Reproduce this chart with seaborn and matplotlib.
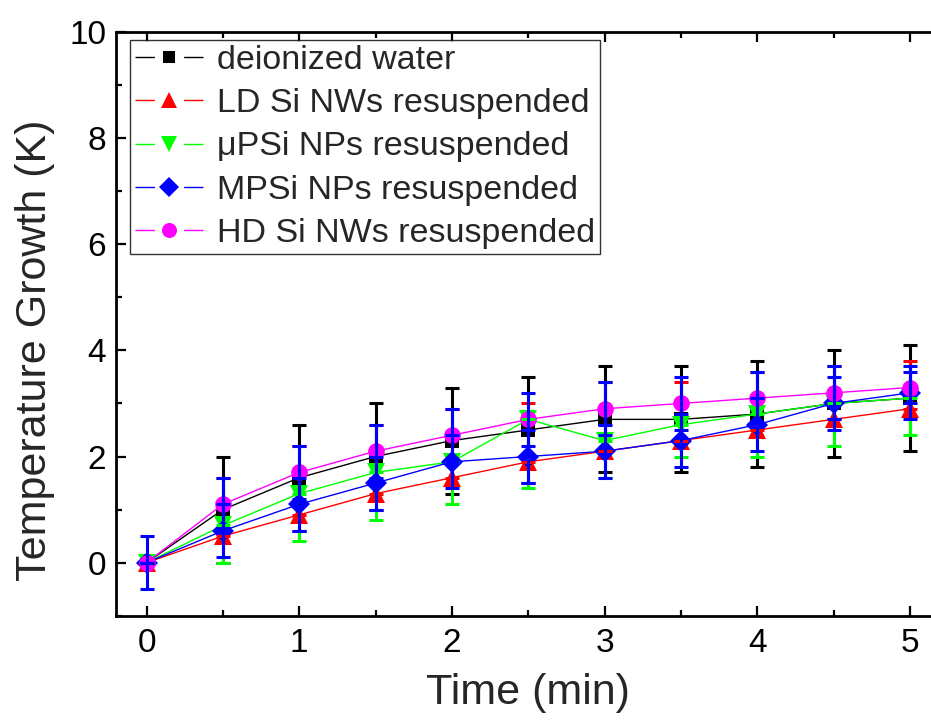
import matplotlib
matplotlib.use("Agg")
import matplotlib.pyplot as plt
import pandas as pd
import seaborn as sns
from matplotlib.lines import Line2D
from matplotlib.ticker import MultipleLocator

# time axis (min)
time_min = [0, 0.5, 1, 1.5, 2, 2.5, 3, 3.5, 4, 4.5, 5]

# temperature growth (K) and error bars
water = [0, 1.0, 1.6, 2.0, 2.3, 2.5, 2.7, 2.7, 2.8, 3.0, 3.1]
water_err = [0, 1.0, 1.0, 1.0, 1.0, 1.0, 1.0, 1.0, 1.0, 1.0, 1.0]
ld_nws = [0, 0.5, 0.9, 1.3, 1.6, 1.9, 2.1, 2.3, 2.5, 2.7, 2.9]
ld_nws_err = [0, 1.1, 1.3, 1.3, 1.3, 1.1, 1.3, 1.1, 1.1, 1.0, 0.9]     # upper only
upsi_nps = [0, 0.7, 1.3, 1.7, 1.9, 2.7, 2.3, 2.6, 2.8, 3.0, 3.1]
upsi_nps_err = [0, 0.7, 0.9, 0.9, 0.8, 1.3, 0.7, 0.6, 0.8, 0.8, 0.7]   # lower only
mpsi_nps = [0, 0.6, 1.1, 1.5, 1.9, 2.0, 2.1, 2.3, 2.6, 3.0, 3.2]
mpsi_nps_err = [0.5, 0.5, 0.5, 0.5, 0.5, 0.5, 0.5, 0.5, 0.5, 0.5, 0.5]
hd_nws = [0, 1.1, 1.7, 2.1, 2.4, 2.7, 2.9, 3.0, 3.1, 3.2, 3.3]
hd_nws_err = [0, 0.5, 0.5, 0.5, 0.5, 0.5, 0.5, 0.5, 0.5, 0.5, 0.3]

labels = [
    "deionized water",
    "LD Si NWs resuspended",
    "\u03bcPSi NPs resuspended",
    "MPSi NPs resuspended",
    "HD Si NWs resuspended",
]
colors = ["#000000", "#FF0000", "#00FF00", "#0000FF", "#FF00FF"]
# HD error bars are drawn in blue in the original
err_colors = ["#000000", "#FF0000", "#00FF00", "#0000FF", "#0000FF"]
err_sides = ["both", "upper", "lower", "both", "both"]
markers = ["s", "^", "v", "D", "o"]
marker_sizes = [10, 13, 13, 11, 12]

sns.set_theme(style="ticks")
plt.rcParams["font.family"] = ["Liberation Sans", "DejaVu Sans"]

fig = plt.figure(figsize=(9.31, 7.22), dpi=100)
ax = fig.add_axes([116 / 931, 1 - 615.7 / 722, 824.4 / 931, (615.7 - 32) / 722])

series = [water, ld_nws, upsi_nps, mpsi_nps, hd_nws]
errors = [water_err, ld_nws_err, upsi_nps_err, mpsi_nps_err, hd_nws_err]

for vals, lab, col, mk, ms in zip(series, labels, colors, markers, marker_sizes):
    df = pd.DataFrame({"time": time_min, "growth": vals})
    sns.lineplot(
        data=df, x="time", y="growth", color=col, marker=mk, markersize=ms,
        markeredgewidth=0, linewidth=1, ax=ax, zorder=2, legend=False,
    )

for vals, err, ecol, side in zip(series, errors, err_colors, err_sides):
    zeros = [0] * len(err)
    if side == "upper":
        yerr = [zeros, err]
    elif side == "lower":
        yerr = [err, zeros]
    else:
        yerr = err
    ax.errorbar(
        time_min, vals, yerr=yerr, fmt="none", ecolor=ecol, elinewidth=2.2,
        capsize=5, capthick=2.2, zorder=3,
    )

ax.set_xlim(-0.2, 5.2)
ax.set_ylim(-1, 10)
ax.xaxis.set_major_locator(MultipleLocator(1))
ax.xaxis.set_minor_locator(MultipleLocator(0.5))
ax.yaxis.set_major_locator(MultipleLocator(2))
ax.yaxis.set_minor_locator(MultipleLocator(1))
ax.tick_params(which="both", direction="in", top=True, right=False, width=1.6,
               colors="black", labelsize=24)
ax.tick_params(which="major", length=7)
ax.tick_params(which="minor", length=4)
ax.tick_params(axis="x", pad=9)
ax.tick_params(axis="y", pad=7)
for side in ["left", "bottom", "top"]:
    ax.spines[side].set_linewidth(2)
    ax.spines[side].set_color("black")
ax.spines["right"].set_visible(False)

ax.set_xlabel("Time (min)", fontsize=31, labelpad=10)
ax.set_ylabel("Temperature Growth (K)", fontsize=31)
ax.yaxis.set_label_coords(-0.074, 0.455)

# Origin-style legend keys: line, gap, symbol, gap, line
handles = [
    Line2D([], [], color=col, linewidth=1, linestyle=(0, (14, 21, 14, 200)),
           marker=mk, markersize=ms * 0.9, markeredgewidth=0)
    for col, mk, ms in zip(colors, markers, marker_sizes)
]
leg = ax.legend(
    handles, labels,
    loc="upper left", bbox_to_anchor=(0.017, 0.986), borderaxespad=0,
    fontsize=24.5, frameon=True, fancybox=False, handlelength=2.0,
    handletextpad=0.4, labelspacing=0.355, borderpad=0.15, numpoints=1,
)
leg.get_frame().set_edgecolor("black")
leg.get_frame().set_linewidth(1)

fig.savefig("out.png", dpi=100)
